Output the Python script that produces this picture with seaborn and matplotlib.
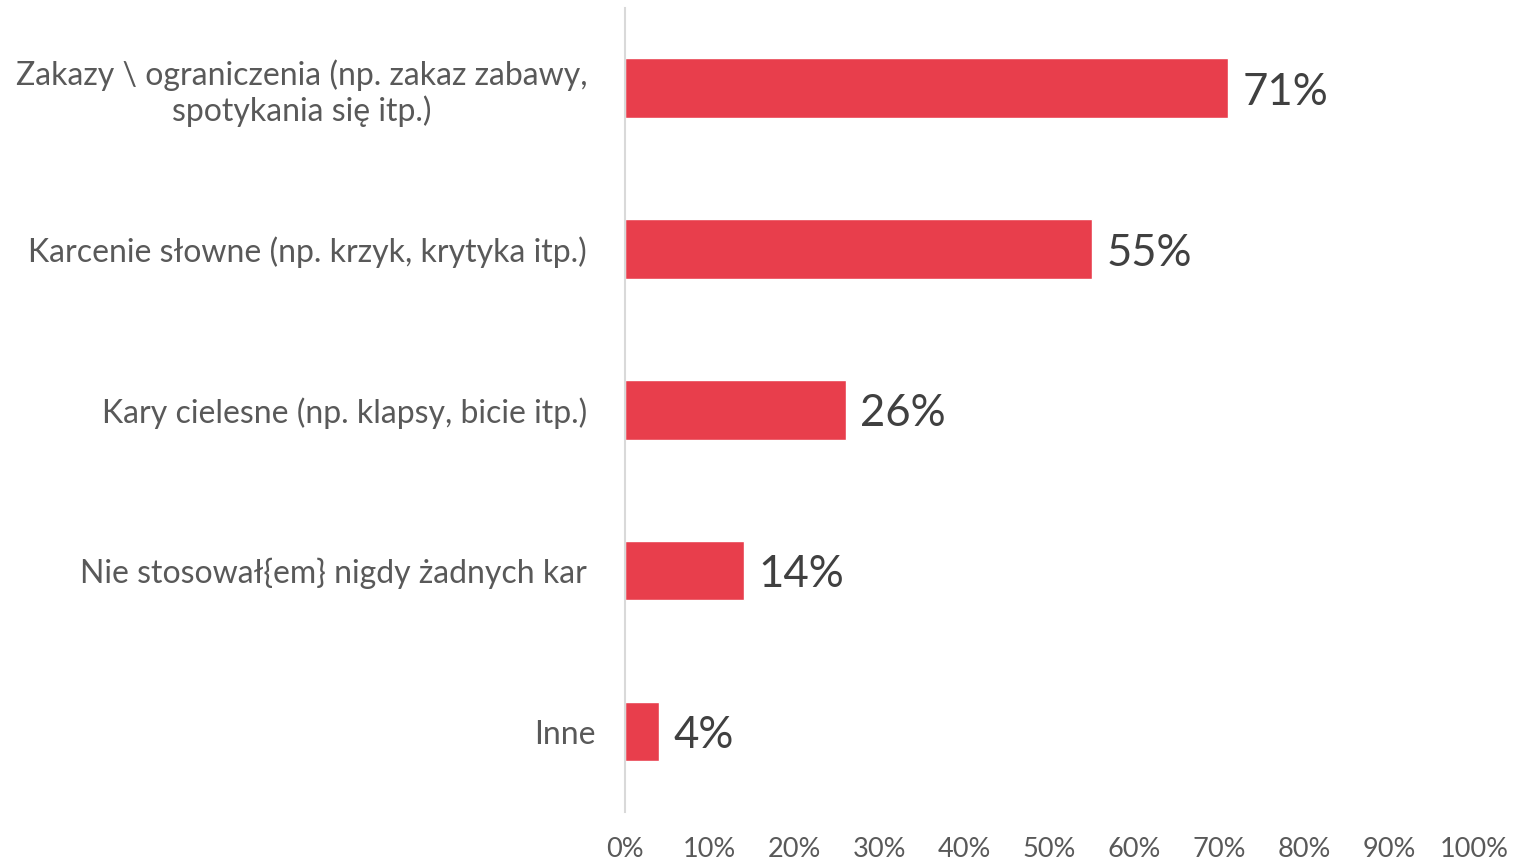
import matplotlib
matplotlib.use("Agg")
import matplotlib.pyplot as plt
import matplotlib.transforms as mtransforms
import seaborn as sns
import pandas as pd
from matplotlib.ticker import PercentFormatter

# ---------------- DATA ----------------
categories = [
    "Zakazy \\ ograniczenia (np. zakaz zabawy,\nspotykania się itp.)",
    "Karcenie słowne (np. krzyk, krytyka itp.)",
    "Kary cielesne (np. klapsy, bicie itp.)",
    "Nie stosował{em} nigdy żadnych kar",
    "Inne",
]
values = [71, 55, 26, 14, 4]

df = pd.DataFrame({"category": categories, "value": values})

# ---------------- STYLE ----------------
sns.set_theme(style="white")
plt.rcParams["font.family"] = ["Lato", "DejaVu Sans"]

BAR_COLOR = "#E83E4C"
LABEL_COLOR = "#595959"

fig = plt.figure(figsize=(15.2, 8.59), dpi=100)
ax = fig.add_axes([0.411, 0.0547, 0.559, 0.9363])

sns.barplot(data=df, x="value", y="category", color=BAR_COLOR,
            width=0.37, saturation=1, ax=ax)

for p, v in zip(ax.patches, values):
    ax.text(p.get_width() + 1.7, p.get_y() + p.get_height() / 2 + 0.025, f"{v}%",
            va="center", ha="left", fontsize=31.5, color="#404040")

ax.set_xlim(0, 100)
ax.set_xticks(range(0, 101, 10))
ax.xaxis.set_major_formatter(PercentFormatter(decimals=0))
ax.set_xlabel("")
ax.set_ylabel("")

for s in ["top", "right", "bottom"]:
    ax.spines[s].set_visible(False)
ax.spines["left"].set_color("#D9D9D9")
ax.spines["left"].set_linewidth(1.5)

ax.tick_params(axis="x", length=0, pad=18, labelsize=19.5, labelcolor=LABEL_COLOR)
ax.tick_params(axis="y", length=0, pad=27, labelsize=23, labelcolor=LABEL_COLOR)
ylabels = ax.get_yticklabels()
for t in ylabels:
    t.set_multialignment("center")
    t.set_linespacing(1.15)
# "Inne" sits a little closer to the axis in the original
shift = mtransforms.ScaledTranslation(8 / 100, 0, fig.dpi_scale_trans)
ylabels[-1].set_transform(ylabels[-1].get_transform() + shift)

fig.savefig("out.png", dpi=100)
